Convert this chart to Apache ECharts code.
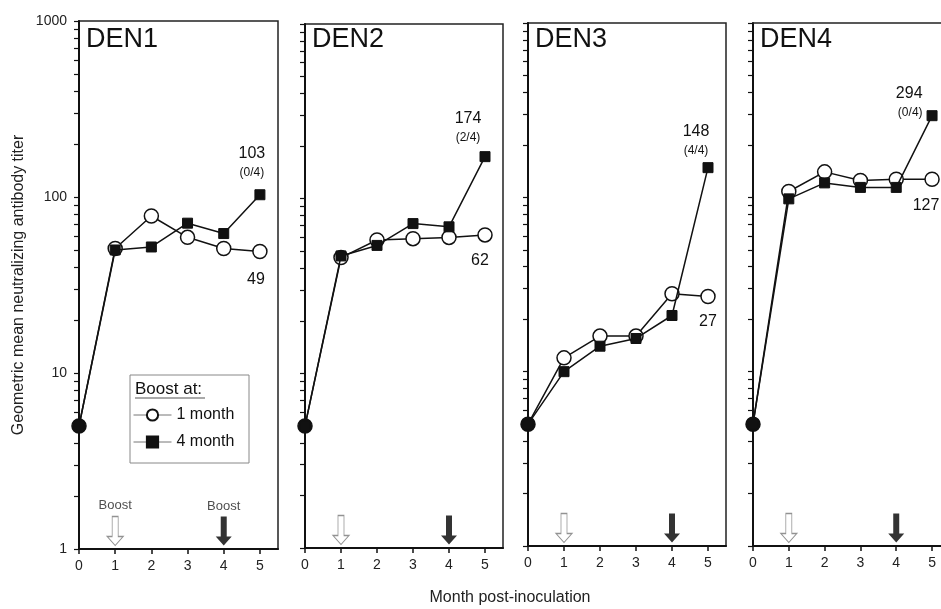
<!DOCTYPE html>
<html>
<head>
<meta charset="utf-8">
<script src="https://cdn.jsdelivr.net/npm/echarts@6/dist/echarts.min.js"></script>
<style>
  html, body { margin: 0; padding: 0; background: #fff; }
  #chart { width: 941px; height: 609px; }
</style>
</head>
<body>
<div id="chart"></div>
<script>
// data
var months = [0, 1, 2, 3, 4, 5];
var serotypes = ['DEN1', 'DEN2', 'DEN3', 'DEN4'];
var boost1 = [
  [5, 51, 78, 59, 51, 49],
  [5, 46, 58, 59, 60, 62],
  [5, 12, 16, 16, 28, 27],
  [5, 108, 140, 125, 127, 127]
];
var boost4 = [
  [5, 50, 52, 71, 62, 103],
  [5, 47, 54, 72, 69, 174],
  [5, 10, 14, 15.5, 21, 148],
  [5, 98, 121, 114, 114, 294]
];
var fractions = ['(0/4)', '(2/4)', '(4/4)', '(0/4)'];
var boostMonths = [1, 4];
var xTicks = [0, 1, 2, 3, 4, 5];
var yLabels = [1, 10, 100, 1000];
var yTicks = [1, 2, 3, 4, 5, 6, 7, 8, 9, 10, 20, 30, 40, 50, 60, 70, 80, 90,
  100, 200, 300, 400, 500, 600, 700, 800, 900, 1000];

// panel layout; the last panel is cut by the right edge in the source,
// so its x range stops short and its right border is not drawn
var panels = [
  { left: 79, top: 21, width: 199, height: 528, xMax: 5.5, box: true },
  { left: 305, top: 24, width: 198, height: 524, xMax: 5.5, box: true },
  { left: 528, top: 23, width: 198, height: 523, xMax: 5.5, box: true },
  { left: 753, top: 23, width: 188, height: 523, xMax: 5.25, box: false }
];
// label offsets for the end values
var sqLabel = [
  { position: 'top', distance: 8, offset: [-8, 0], align: 'center' },
  { position: 'top', distance: 5, offset: [-17, 0], align: 'center' },
  { position: 'top', distance: 3, offset: [-12, 0], align: 'center' },
  { position: 'left', distance: 4, offset: [0, -14], align: 'right' }
];
var ciLabel = [
  { distance: 12, offset: [-4, 0] },
  { distance: 10, offset: [-5, 0] },
  { distance: 9, offset: [0, 0] },
  { distance: 11, offset: [-6, 0] }
];

var FONT = '"Liberation Sans", Arial, Helvetica, sans-serif';
var arrowPath = 'path://M5,0 L11,0 L11,20 L16,20 L8,29 L0,20 L5,20 Z';

var grids = [], xAxes = [], yAxes = [], titles = [], series = [];

panels.forEach(function (p, i) {
  grids.push({
    left: p.left, top: p.top, width: p.width, height: p.height,
    show: p.box, borderColor: '#222', borderWidth: 1.5, backgroundColor: 'transparent'
  });
  titles.push({
    text: serotypes[i], left: p.left + 7, top: 26, padding: 0,
    textStyle: { fontSize: 27, fontWeight: 'normal', color: '#111', fontFamily: FONT }
  });
  xAxes.push({
    type: 'value', gridIndex: i, min: 0, max: p.xMax,
    splitLine: { show: false },
    axisLine: { onZero: false, lineStyle: { color: '#111', width: 2 } },
    axisTick: { customValues: xTicks, length: 5, lineStyle: { color: '#111', width: 1.5 } },
    axisLabel: { customValues: xTicks, fontSize: 14, color: '#222', margin: 10, fontFamily: FONT }
  });
  yAxes.push({
    type: 'log', logBase: 10, gridIndex: i, min: 1, max: 1000,
    name: i === 0 ? 'Geometric mean neutralizing antibody titer' : '',
    nameLocation: 'middle', nameGap: 52,
    nameTextStyle: { fontSize: 16, color: '#222', fontFamily: FONT },
    splitLine: { show: false },
    axisLine: { onZero: false, lineStyle: { color: '#111', width: 2 } },
    axisTick: { customValues: yTicks, length: 5, lineStyle: { color: '#111', width: 1.2 } },
    axisLabel: {
      show: i === 0, customValues: yLabels, fontSize: 14, color: '#222', margin: 12, fontFamily: FONT,
      formatter: function (v) { return String(Math.round(v)); }
    }
  });

  var last = months.length - 1;
  var c = ciLabel[i];
  series.push({
    name: '1 month', type: 'line', xAxisIndex: i, yAxisIndex: i,
    symbol: 'circle', symbolSize: 14, clip: false,
    lineStyle: { color: '#111', width: 1.5 },
    itemStyle: { color: '#fff', borderColor: '#111', borderWidth: 1.5 },
    data: months.map(function (m, k) {
      var d = { value: [m, boost1[i][k]] };
      if (k === 0) d.itemStyle = { color: '#111' };
      if (k === last) d.label = {
        show: true, position: 'bottom', distance: c.distance, offset: c.offset,
        formatter: String(boost1[i][k]), fontSize: 16, color: '#111', fontFamily: FONT
      };
      return d;
    }),
    z: 3
  });
  var s = sqLabel[i];
  series.push({
    name: '4 month', type: 'line', xAxisIndex: i, yAxisIndex: i,
    symbol: 'rect', symbolSize: 10, clip: false,
    lineStyle: { color: '#111', width: 1.5 },
    itemStyle: { color: '#111', borderColor: '#111', borderWidth: 1 },
    data: months.map(function (m, k) {
      var d = { value: [m, boost4[i][k]] };
      if (k === last) d.label = {
        show: true, position: s.position, distance: s.distance, offset: s.offset,
        formatter: '{a|' + boost4[i][k] + '}\n{b|' + fractions[i] + '}',
        rich: {
          a: { fontSize: 16, lineHeight: 22, color: '#111', align: s.align, fontFamily: FONT },
          b: { fontSize: 12, lineHeight: 17, color: '#111', align: s.align, fontFamily: FONT }
        }
      };
      return d;
    }),
    z: 4
  });
  // boost arrows (open = 1 month, filled = 4 month)
  boostMonths.forEach(function (bm, j) {
    series.push({
      type: 'scatter', xAxisIndex: i, yAxisIndex: i, silent: true,
      symbol: arrowPath, symbolSize: [16, 29], symbolOffset: [0, -18],
      itemStyle: j === 0
        ? { color: '#fff', borderColor: '#777', borderWidth: 1 }
        : { color: '#000' },
      label: {
        show: i === 0, position: 'top', distance: 4, formatter: 'Boost',
        fontSize: 13, color: '#222', fontFamily: FONT
      },
      data: [[bm, 1]],
      z: 2
    });
  });
});

// top border of the cut-off last panel
xAxes.push({
  type: 'value', gridIndex: 3, position: 'top', min: 0, max: panels[3].xMax,
  splitLine: { show: false }, axisTick: { show: false }, axisLabel: { show: false },
  axisLine: { onZero: false, lineStyle: { color: '#222', width: 1.5 } }
});

var chart = echarts.init(document.getElementById('chart'));
chart.setOption({
  animation: false,
  textStyle: { fontFamily: FONT },
  title: titles,
  grid: grids,
  xAxis: xAxes,
  yAxis: yAxes,
  legend: {
    data: ['1 month', '4 month'],
    orient: 'vertical', left: 133, top: 407,
    itemWidth: 38, itemHeight: 14, itemGap: 11,
    lineStyle: { color: '#777', width: 1 },
    textStyle: { fontSize: 16, color: '#111', fontFamily: FONT },
    selectedMode: false, padding: 0, z: 10
  },
  graphic: [
    { type: 'rect', shape: { x: 130, y: 375, width: 119, height: 88 },
      style: { fill: '#fff', stroke: '#888', lineWidth: 1 }, z: 5 },
    { type: 'text', x: 135, y: 381,
      style: { text: 'Boost at:', fontSize: 17, fill: '#111', fontFamily: FONT }, z: 6 },
    { type: 'line', shape: { x1: 135, y1: 398, x2: 205, y2: 398 },
      style: { stroke: '#555', lineWidth: 1.2 }, z: 6 },
    { type: 'text', x: 510, y: 598,
      style: { text: 'Month post-inoculation', fontSize: 16, fill: '#222',
        align: 'center', verticalAlign: 'middle', fontFamily: FONT } }
  ],
  series: series
});
</script>
</body>
</html>
